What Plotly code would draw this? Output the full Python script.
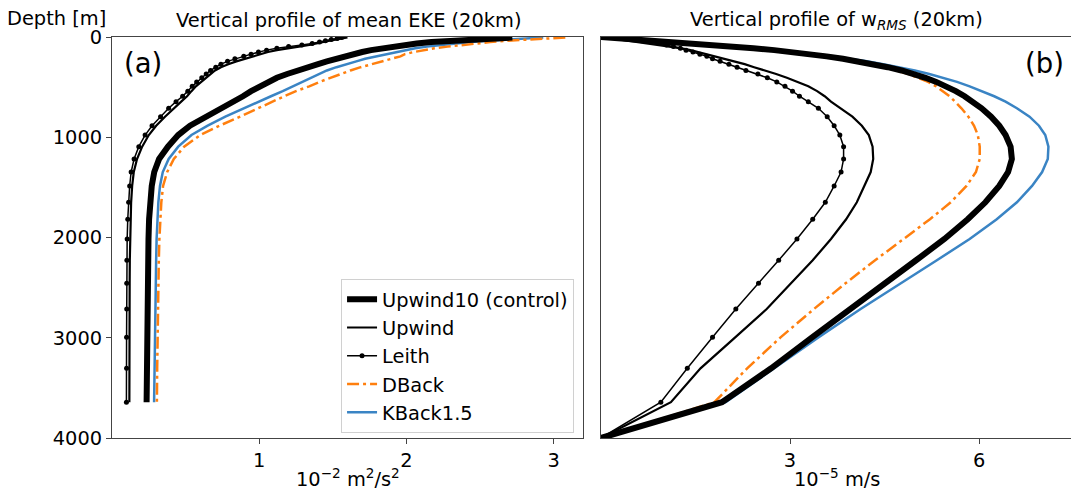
import plotly.graph_objects as go

# Depth levels [m]
depth = [5, 15, 26, 38, 51, 65, 80, 96, 113, 131, 150, 171, 193, 217, 243, 271, 301, 334, 369, 407,
         448, 492, 540, 591, 645, 711, 795, 885, 978, 1094, 1217, 1347, 1486, 1649, 1818, 2015, 2227,
         2457, 2713, 2996, 3305, 3643]
depth_w = [0] + depth + [4000]

# (a) mean EKE [1e-2 m^2/s^2]
eke_control = [2.72, 2.56, 2.42, 2.29, 2.17, 2.07, 1.99, 1.91, 1.83, 1.76, 1.70, 1.64, 1.58, 1.52, 1.46,
               1.40, 1.33, 1.26, 1.19, 1.12, 1.06, 1.00, 0.945, 0.89, 0.82, 0.74, 0.63, 0.53, 0.45, 0.38,
               0.32, 0.287, 0.27, 0.258, 0.252, 0.248, 0.245, 0.242, 0.24, 0.238, 0.236, 0.235]
eke_upwind = [1.60, 1.55, 1.51, 1.47, 1.43, 1.39, 1.34, 1.27, 1.19, 1.12, 1.06, 1.01, 0.96, 0.90, 0.845,
              0.79, 0.74, 0.70, 0.67, 0.635, 0.60, 0.57, 0.54, 0.51, 0.47, 0.42, 0.36, 0.30, 0.25, 0.205,
              0.17, 0.148, 0.137, 0.13, 0.126, 0.123, 0.121, 0.12, 0.12, 0.119, 0.119, 0.118]
eke_leith = [1.56, 1.53, 1.49, 1.45, 1.41, 1.36, 1.29, 1.20, 1.12, 1.05, 0.995, 0.945, 0.895, 0.835, 0.785,
             0.74, 0.705, 0.67, 0.64, 0.61, 0.575, 0.545, 0.515, 0.48, 0.435, 0.385, 0.33, 0.272, 0.225,
             0.182, 0.15, 0.13, 0.12, 0.113, 0.107, 0.103, 0.101, 0.10, 0.10, 0.099, 0.099, 0.098]
eke_dback = [3.08, 2.93, 2.80, 2.68, 2.57, 2.47, 2.37, 2.28, 2.19, 2.11, 2.05, 1.99, 1.96, 1.90, 1.83,
             1.75, 1.69, 1.62, 1.555, 1.48, 1.41, 1.34, 1.25, 1.17, 1.09, 1.00, 0.87, 0.73, 0.60, 0.49,
             0.42, 0.375, 0.347, 0.335, 0.328, 0.322, 0.318, 0.315, 0.312, 0.31, 0.307, 0.305]
eke_kback = [2.93, 2.80, 2.67, 2.55, 2.44, 2.34, 2.24, 2.14, 2.06, 2.00, 1.945, 1.87, 1.80, 1.72, 1.66,
             1.59, 1.525, 1.46, 1.41, 1.35, 1.29, 1.23, 1.16, 1.08, 1.00, 0.89, 0.77, 0.65, 0.54, 0.45,
             0.385, 0.345, 0.326, 0.315, 0.308, 0.303, 0.30, 0.297, 0.294, 0.291, 0.288, 0.286]

# (b) w_RMS [1e-5 m/s]
w_control = [0, 0.12, 0.36, 0.62, 0.90, 1.20, 1.50, 1.80, 2.10, 2.42, 2.75, 3.05, 3.32, 3.58, 3.84, 4.08,
             4.32, 4.55, 4.77, 4.97, 5.15, 5.32, 5.48, 5.63, 5.77, 5.90, 6.04, 6.19, 6.32, 6.42, 6.50,
             6.52, 6.46, 6.32, 6.10, 5.82, 5.45, 5.00, 4.50, 3.95, 3.35, 2.70, 1.92, 0]
w_upwind = [0, 0.06, 0.18, 0.30, 0.44, 0.60, 0.76, 0.94, 1.12, 1.28, 1.42, 1.54, 1.68, 1.82, 1.98, 2.12,
            2.28, 2.43, 2.61, 2.78, 2.95, 3.13, 3.29, 3.43, 3.55, 3.65, 3.80, 3.99, 4.14, 4.25, 4.31,
            4.32, 4.28, 4.18, 4.06, 3.89, 3.65, 3.36, 3.02, 2.63, 2.13, 1.58, 1.11, 0]
w_leith = [0, 0.05, 0.25, 0.45, 0.64, 0.80, 0.93, 1.04, 1.15, 1.26, 1.35, 1.46, 1.57, 1.68, 1.77, 1.89,
           2.03, 2.16, 2.30, 2.49, 2.64, 2.79, 2.92, 3.04, 3.15, 3.29, 3.45, 3.59, 3.70, 3.79, 3.85,
           3.85, 3.81, 3.70, 3.56, 3.36, 3.11, 2.82, 2.50, 2.14, 1.77, 1.37, 0.95, 0]
w_dback = [0, 0.11, 0.34, 0.59, 0.86, 1.15, 1.44, 1.73, 2.02, 2.33, 2.65, 2.98, 3.27, 3.53, 3.79, 4.02,
           4.26, 4.48, 4.69, 4.88, 5.04, 5.19, 5.32, 5.43, 5.53, 5.62, 5.72, 5.83, 5.92, 5.98, 6.01,
           6.01, 5.95, 5.80, 5.55, 5.22, 4.80, 4.35, 3.88, 3.38, 2.85, 2.32, 1.80, 0]
w_kback = [0, 0.12, 0.36, 0.62, 0.90, 1.20, 1.50, 1.81, 2.12, 2.45, 2.79, 3.10, 3.40, 3.68, 3.96, 4.22,
           4.48, 4.74, 4.98, 5.21, 5.44, 5.65, 5.85, 6.05, 6.24, 6.42, 6.60, 6.80, 6.95, 7.05, 7.10,
           7.09, 7.00, 6.84, 6.60, 6.28, 5.85, 5.33, 4.75, 4.12, 3.45, 2.75, 1.98, 0]

names = ["Upwind10 (control)", "Upwind", "Leith", "DBack", "KBack1.5"]
yticks = [0, 1000, 2000, 3000, 4000]
FONT = "DejaVu Sans"
FS = 19.4
BLUE = "#3a84c4"
ORANGE = "#ff7f0e"

styles = {
    "KBack1.5": dict(line=dict(color=BLUE, width=2.5), mode="lines", rank=5),
    "DBack": dict(line=dict(color=ORANGE, width=2.5, dash="12px,4px,3px,4px"), mode="lines", rank=4),
    "Leith": dict(line=dict(color="black", width=1.5), mode="lines+markers", rank=3),
    "Upwind": dict(line=dict(color="black", width=2.2), mode="lines", rank=2),
    "Upwind10 (control)": dict(line=dict(color="black", width=6), mode="lines", rank=1),
}
eke = {"Upwind10 (control)": eke_control, "Upwind": eke_upwind, "Leith": eke_leith,
       "DBack": eke_dback, "KBack1.5": eke_kback}
wrms = {"Upwind10 (control)": w_control, "Upwind": w_upwind, "Leith": w_leith,
        "DBack": w_dback, "KBack1.5": w_kback}

fig = go.Figure()
draw_order = ["KBack1.5", "DBack", "Leith", "Upwind", "Upwind10 (control)"]
for nm in draw_order:
    st = styles[nm]
    fig.add_trace(go.Scatter(x=eke[nm], y=depth, name=nm, mode=st["mode"], line=st["line"],
                             marker=dict(size=5, color="black"), legendrank=st["rank"],
                             xaxis="x", yaxis="y", showlegend=True))
for nm in draw_order:
    st = styles[nm]
    fig.add_trace(go.Scatter(x=wrms[nm], y=depth_w, name=nm, mode=st["mode"], line=st["line"],
                             marker=dict(size=5, color="black"), legendrank=st["rank"],
                             xaxis="x2", yaxis="y2", showlegend=False))

axis_common = dict(showline=True, linecolor="#444", linewidth=1, mirror=True, showgrid=False,
                   zeroline=False, ticklen=5, tickcolor="#444",
                   tickfont=dict(family=FONT, size=FS, color="black"))

# page body has an 8px margin: compensate so the plot area lands on page px 112..1073 x 37..438
fig.update_layout(
    width=1071, height=485,
    margin=dict(l=104, r=6, t=29, b=55),
    plot_bgcolor="white", paper_bgcolor="white",
    font=dict(family=FONT, color="black", size=FS),
    xaxis=dict(domain=[0, 0.4901], range=[0, 3.2], tickvals=[1, 2, 3], ticks="outside", **axis_common),
    yaxis=dict(domain=[0, 1], range=[4000, 0], tickvals=yticks, ticks="outside", **axis_common),
    xaxis2=dict(domain=[0.5088, 1], range=[0, 7.49], tickvals=[3, 6], anchor="y2", ticks="outside",
                **axis_common),
    yaxis2=dict(domain=[0, 1], range=[4000, 0], anchor="x2", showticklabels=False, ticks="",
                **axis_common),
    legend=dict(x=0.4808, y=0.012, xanchor="right", yanchor="bottom",
                bordercolor="#d0d0d0", borderwidth=1, bgcolor="rgba(255,255,255,0.9)",
                font=dict(family=FONT, size=FS, color="black"), tracegroupgap=0),
    showlegend=True,
)

annotations = [
    dict(text="Depth [m]", x=-0.111, y=1.047, xanchor="left", yanchor="middle", font=dict(size=FS)),
    dict(text="Vertical profile of mean EKE (20km)", x=0.2456, y=1.042, xanchor="center",
         yanchor="middle", font=dict(size=FS)),
    dict(text="Vertical profile of w<sub><i>RMS</i></sub> (20km)", x=0.7544, y=1.042,
         xanchor="center", yanchor="middle", font=dict(size=FS)),
    dict(text="(a)", x=0.032, y=0.935, xanchor="center", yanchor="middle", font=dict(size=27.5)),
    dict(text="(b)", x=0.97, y=0.935, xanchor="center", yanchor="middle", font=dict(size=27.5)),
    dict(text="10<sup>\u22122</sup> m<sup>2</sup>/s<sup>2</sup>", x=0.2456, y=-0.10,
         xanchor="center", yanchor="middle", font=dict(size=FS)),
    dict(text="10<sup>\u22125</sup> m/s", x=0.7544, y=-0.10, xanchor="center", yanchor="middle",
         font=dict(size=FS)),
]
for a in annotations:
    a.update(xref="paper", yref="paper", showarrow=False)
    a["font"].update(family=FONT, color="black")
fig.update_layout(annotations=annotations)

fig.write_html("out.html")
